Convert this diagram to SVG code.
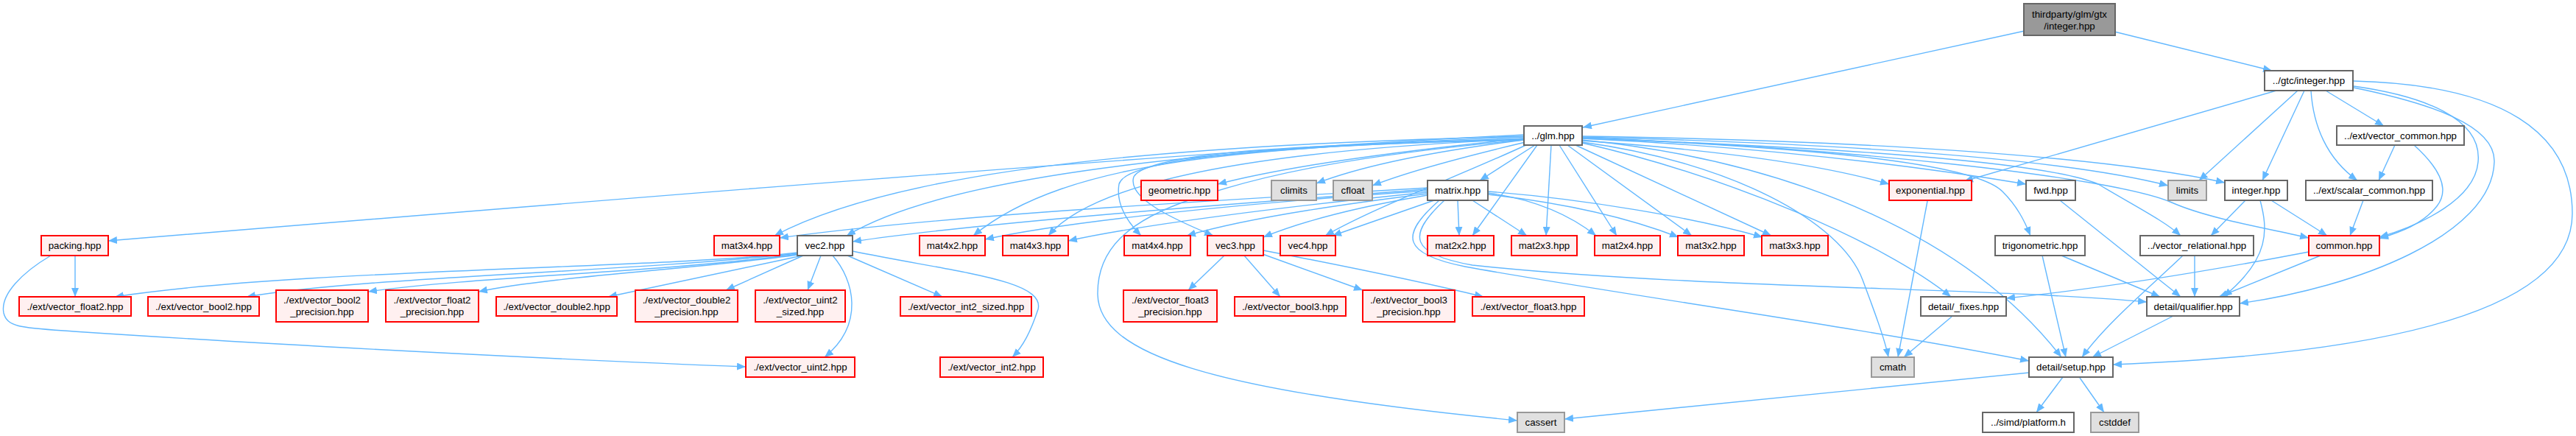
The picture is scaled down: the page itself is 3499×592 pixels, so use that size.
<svg xmlns="http://www.w3.org/2000/svg" width="3499" height="592" viewBox="0 0 3499 592">
<style>
text{font-family:"Liberation Sans",Arial,sans-serif;font-size:13.3px;fill:#000;text-anchor:middle}
.n rect{fill:#fff;stroke:#666;stroke-width:2}
.r rect{fill:#fff0f0;stroke:#ff0000;stroke-width:2}
.s rect{fill:#e0e0e0;stroke:#999;stroke-width:2}
.t rect{fill:#999;stroke:#666;stroke-width:2}
#edges path{fill:none;stroke:#63b8ff;stroke-width:1.4;marker-end:url(#ah)}
</style>
<defs>
<marker id="ah" viewBox="0 0 12 10" refX="12" refY="5" markerWidth="12" markerHeight="10" markerUnits="userSpaceOnUse" orient="auto">
<path d="M0,0 L12,5 L0,10 z" fill="#63b8ff"/>
</marker>
</defs>
<rect width="3499" height="592" fill="#fff"/>
<g id="edges">
<path d="M2750,42 L2150,173"/>
<path d="M2872,43 L3086,96"/>
<path d="M3092,123 L2668,246"/>
<path d="M3121,123 L2987,245"/>
<path d="M3130,123 L3073,245"/>
<path d="M3139,123 C3142,170 3160,215 3202,245"/>
<path d="M3159,123 L3238,171"/>
<path d="M3197,117 C3290,130 3372,160 3366,220 C3362,270 3290,305 3232,322"/>
<path d="M3279,197 C3310,225 3330,255 3310,280 C3290,305 3260,315 3232,324"/>
<path d="M3197,119 C3300,140 3390,170 3388,220 C3385,320 3200,390 3042,412"/>
<path d="M3197,110 C3400,115 3494,180 3494,290 C3494,420 3250,480 2870,495"/>
<path d="M3253,197 L3231,245"/>
<path d="M3210,272 L3192,320"/>
<path d="M3050,272 L3003,320"/>
<path d="M3070,272 C3080,310 3085,350 3020,403"/>
<path d="M3085,272 L3161,320"/>
<path d="M2981,347 L2981,403"/>
<path d="M2965,347 C2920,390 2860,440 2828,485"/>
<path d="M3152,347 L3014,403"/>
<path d="M3136,342 C3000,368 2850,392 2725,405"/>
<path d="M2952,429 L2842,485"/>
<path d="M2802,512 L2766,560"/>
<path d="M2825,513 L2858,560"/>
<path d="M2756,506 L2125,569"/>
<path d="M2651,430 L2586,485"/>
<path d="M2618,273 L2578,485"/>
<path d="M2774,347 L2806,485"/>
<path d="M2800,347 L2934,403"/>
<path d="M2798,272 L2962,403"/>
<path d="M2070,183 C1700,200 900,265 147,327"/>
<path d="M2070,185 C1700,195 1250,215 1052,320"/>
<path d="M2070,186 C1700,200 1300,230 1150,320"/>
<path d="M2071,188 C1700,200 1450,215 1322,320"/>
<path d="M2071,189 C1800,200 1500,230 1424,320"/>
<path d="M2071,190 C1800,195 1530,210 1520,250 C1515,280 1535,305 1550,320"/>
<path d="M2071,190 C1800,195 1560,205 1540,240 C1530,270 1600,300 1648,320"/>
<path d="M2075,196 C1980,240 1870,280 1800,320"/>
<path d="M2070,188 C1900,205 1750,225 1654,250"/>
<path d="M2070,190 C1950,205 1850,225 1788,249"/>
<path d="M2072,193 C2000,210 1920,230 1864,252"/>
<path d="M2085,197 L2010,245"/>
<path d="M2088,197 L2000,320"/>
<path d="M2107,197 L2100,320"/>
<path d="M2118,197 L2196,320"/>
<path d="M2129,197 L2298,320"/>
<path d="M2140,197 L2406,320"/>
<path d="M2149,191 C2350,205 2480,225 2566,250"/>
<path d="M2149,188 C2400,200 2600,225 2752,250"/>
<path d="M2149,187 C2450,200 2680,220 2720,260 C2740,280 2750,300 2758,320"/>
<path d="M2149,193 C2350,220 2500,300 2530,380 C2545,420 2560,460 2565,485"/>
<path d="M2149,194 C2350,240 2560,330 2650,403"/>
<path d="M2149,190 C2450,220 2680,330 2800,485"/>
<path d="M2149,186 C2500,195 2800,215 2945,252"/>
<path d="M2149,185 C2500,190 2850,210 3022,248"/>
<path d="M2149,187 C2500,200 2870,240 2950,275 C3000,297 3080,310 3136,323"/>
<path d="M2149,188 C2500,200 2780,220 2850,250 C2900,280 2940,300 2962,320"/>
<path d="M2070,190 C1850,210 1720,235 1620,270 C1530,300 1490,340 1491,400 C1493,480 1640,530 2061,571"/>
<path d="M1939,255 C1700,270 1300,290 1059,323"/>
<path d="M1939,257 C1700,275 1350,300 1158,328"/>
<path d="M1939,259 C1700,275 1450,300 1338,325"/>
<path d="M1939,261 C1750,280 1550,305 1451,327"/>
<path d="M1939,263 C1800,280 1680,300 1612,320"/>
<path d="M1939,265 C1850,280 1770,300 1716,322"/>
<path d="M1948,272 L1810,320"/>
<path d="M1980,272 L1982,320"/>
<path d="M2000,272 L2074,320"/>
<path d="M2021,262 C2080,270 2130,290 2168,320"/>
<path d="M2021,264 C2120,275 2210,295 2280,322"/>
<path d="M2021,260 C2150,270 2300,295 2394,322"/>
<path d="M1955,272 C1900,320 1905,345 1990,362 C2200,400 2500,440 2756,490"/>
<path d="M1962,272 C1910,320 1915,345 2000,360 C2300,392 2700,390 2916,410"/>
<path d="M1083,343 C900,365 400,365 156,403"/>
<path d="M1083,344 C850,370 500,375 335,403"/>
<path d="M1083,345 C900,370 650,375 500,396"/>
<path d="M1083,346 C950,365 750,375 650,396"/>
<path d="M1090,347 L826,403"/>
<path d="M1091,347 L986,394"/>
<path d="M1115,347 L1097,394"/>
<path d="M1131,347 C1160,380 1175,440 1120,485"/>
<path d="M1151,347 L1280,403"/>
<path d="M1158,341 C1300,370 1420,380 1410,420 C1400,450 1390,470 1375,485"/>
<path d="M102,347 L102,403"/>
<path d="M69,347 C30,370 0,400 5,425 C10,445 30,445 100,450 C400,470 800,490 1013,498"/>
<path d="M1663,347 L1614,394"/>
<path d="M1690,347 L1739,403"/>
<path d="M1715,345 L1851,394"/>
<path d="M1716,340 C1820,360 1920,380 2015,403"/>
</g>
<g id="n_top" class="t"><rect x="2749" y="5" width="124" height="43"/><text x="2811" y="24">thirdparty/glm/gtx</text><text x="2811" y="40">/integer.hpp</text></g>
<g id="n_glm" class="n"><rect x="2070" y="171" width="79" height="26"/><text x="2109.5" y="188.5">../glm.hpp</text></g>
<g id="n_gtcint" class="n"><rect x="3076" y="96" width="120" height="27"/><text x="3136" y="114">../gtc/integer.hpp</text></g>
<g id="n_vcommon" class="n"><rect x="3174" y="171" width="173" height="26"/><text x="3260.5" y="188.5">../ext/vector_common.hpp</text></g>
<g id="n_limits" class="s"><rect x="2945" y="245" width="52" height="27"/><text x="2971" y="263">limits</text></g>
<g id="n_integer" class="n"><rect x="3022" y="245" width="85" height="27"/><text x="3064.5" y="263">integer.hpp</text></g>
<g id="n_scommon" class="n"><rect x="3132" y="245" width="172" height="27"/><text x="3218" y="263">../ext/scalar_common.hpp</text></g>
<g id="n_exponential" class="r"><rect x="2566" y="245" width="112" height="27"/><text x="2622" y="263">exponential.hpp</text></g>
<g id="n_fwd" class="n"><rect x="2752" y="245" width="67" height="27"/><text x="2785.5" y="263">fwd.hpp</text></g>
<g id="n_geometric" class="r"><rect x="1550" y="245" width="104" height="27"/><text x="1602" y="263">geometric.hpp</text></g>
<g id="n_climits" class="s"><rect x="1727" y="245" width="61" height="27"/><text x="1757.5" y="263">climits</text></g>
<g id="n_cfloat" class="s"><rect x="1811" y="245" width="53" height="27"/><text x="1837.5" y="263">cfloat</text></g>
<g id="n_matrix" class="n"><rect x="1939" y="245" width="82" height="27"/><text x="1980" y="263">matrix.hpp</text></g>
<g id="n_packing" class="r"><rect x="56" y="320" width="91" height="27"/><text x="101.5" y="338">packing.hpp</text></g>
<g id="n_mat3x4" class="r"><rect x="970" y="320" width="89" height="27"/><text x="1014.5" y="338">mat3x4.hpp</text></g>
<g id="n_vec2" class="n"><rect x="1083" y="320" width="75" height="27"/><text x="1120.5" y="338">vec2.hpp</text></g>
<g id="n_mat4x2" class="r"><rect x="1249" y="320" width="89" height="27"/><text x="1293.5" y="338">mat4x2.hpp</text></g>
<g id="n_mat4x3" class="r"><rect x="1362" y="320" width="89" height="27"/><text x="1406.5" y="338">mat4x3.hpp</text></g>
<g id="n_mat4x4" class="r"><rect x="1527" y="320" width="90" height="27"/><text x="1572" y="338">mat4x4.hpp</text></g>
<g id="n_vec3" class="r"><rect x="1640" y="320" width="76" height="27"/><text x="1678" y="338">vec3.hpp</text></g>
<g id="n_vec4" class="r"><rect x="1739" y="320" width="75" height="27"/><text x="1776.5" y="338">vec4.hpp</text></g>
<g id="n_mat2x2" class="r"><rect x="1939" y="320" width="90" height="27"/><text x="1984" y="338">mat2x2.hpp</text></g>
<g id="n_mat2x3" class="r"><rect x="2053" y="320" width="89" height="27"/><text x="2097.5" y="338">mat2x3.hpp</text></g>
<g id="n_mat2x4" class="r"><rect x="2166" y="320" width="89" height="27"/><text x="2210.5" y="338">mat2x4.hpp</text></g>
<g id="n_mat3x2" class="r"><rect x="2279" y="320" width="90" height="27"/><text x="2324" y="338">mat3x2.hpp</text></g>
<g id="n_mat3x3" class="r"><rect x="2393" y="320" width="90" height="27"/><text x="2438" y="338">mat3x3.hpp</text></g>
<g id="n_trig" class="n"><rect x="2710" y="320" width="122" height="27"/><text x="2771" y="338">trigonometric.hpp</text></g>
<g id="n_vrel" class="n"><rect x="2907" y="320" width="154" height="27"/><text x="2984" y="338">../vector_relational.hpp</text></g>
<g id="n_common" class="r"><rect x="3136" y="320" width="96" height="27"/><text x="3184" y="338">common.hpp</text></g>
<g id="n_float2" class="r"><rect x="26" y="403" width="152" height="26"/><text x="102" y="420.5">./ext/vector_float2.hpp</text></g>
<g id="n_bool2" class="r"><rect x="201" y="403" width="151" height="26"/><text x="276.5" y="420.5">./ext/vector_bool2.hpp</text></g>
<g id="n_bool2p" class="r"><rect x="375" y="394" width="125" height="43"/><text x="437.5" y="412">./ext/vector_bool2</text><text x="437.5" y="428">_precision.hpp</text></g>
<g id="n_float2p" class="r"><rect x="524" y="394" width="126" height="43"/><text x="587" y="412">./ext/vector_float2</text><text x="587" y="428">_precision.hpp</text></g>
<g id="n_double2" class="r"><rect x="674" y="403" width="164" height="26"/><text x="756" y="420.5">./ext/vector_double2.hpp</text></g>
<g id="n_double2p" class="r"><rect x="863" y="394" width="139" height="43"/><text x="932.5" y="412">./ext/vector_double2</text><text x="932.5" y="428">_precision.hpp</text></g>
<g id="n_uint2s" class="r"><rect x="1026" y="394" width="122" height="43"/><text x="1087" y="412">./ext/vector_uint2</text><text x="1087" y="428">_sized.hpp</text></g>
<g id="n_int2s" class="r"><rect x="1223" y="403" width="178" height="26"/><text x="1312" y="420.5">./ext/vector_int2_sized.hpp</text></g>
<g id="n_float3p" class="r"><rect x="1526" y="394" width="127" height="43"/><text x="1589.5" y="412">./ext/vector_float3</text><text x="1589.5" y="428">_precision.hpp</text></g>
<g id="n_bool3" class="r"><rect x="1677" y="403" width="151" height="26"/><text x="1752.5" y="420.5">./ext/vector_bool3.hpp</text></g>
<g id="n_bool3p" class="r"><rect x="1851" y="394" width="125" height="43"/><text x="1913.5" y="412">./ext/vector_bool3</text><text x="1913.5" y="428">_precision.hpp</text></g>
<g id="n_float3" class="r"><rect x="2000" y="403" width="152" height="26"/><text x="2076" y="420.5">./ext/vector_float3.hpp</text></g>
<g id="n_fixes" class="n"><rect x="2609" y="403" width="116" height="26"/><text x="2667" y="420.5">detail/_fixes.hpp</text></g>
<g id="n_qualifier" class="n"><rect x="2916" y="403" width="126" height="26"/><text x="2979" y="420.5">detail/qualifier.hpp</text></g>
<g id="n_uint2" class="r"><rect x="1013" y="485" width="148" height="27"/><text x="1087" y="503">./ext/vector_uint2.hpp</text></g>
<g id="n_int2" class="r"><rect x="1277" y="485" width="140" height="27"/><text x="1347" y="503">./ext/vector_int2.hpp</text></g>
<g id="n_cmath" class="s"><rect x="2542" y="485" width="58" height="27"/><text x="2571" y="503">cmath</text></g>
<g id="n_setup" class="n"><rect x="2756" y="485" width="114" height="27"/><text x="2813" y="503">detail/setup.hpp</text></g>
<g id="n_cassert" class="s"><rect x="2061" y="560" width="64" height="27"/><text x="2093" y="578">cassert</text></g>
<g id="n_platform" class="n"><rect x="2693" y="560" width="124" height="27"/><text x="2755" y="578">../simd/platform.h</text></g>
<g id="n_cstddef" class="s"><rect x="2840" y="560" width="65" height="27"/><text x="2872.5" y="578">cstddef</text></g>
</svg>
